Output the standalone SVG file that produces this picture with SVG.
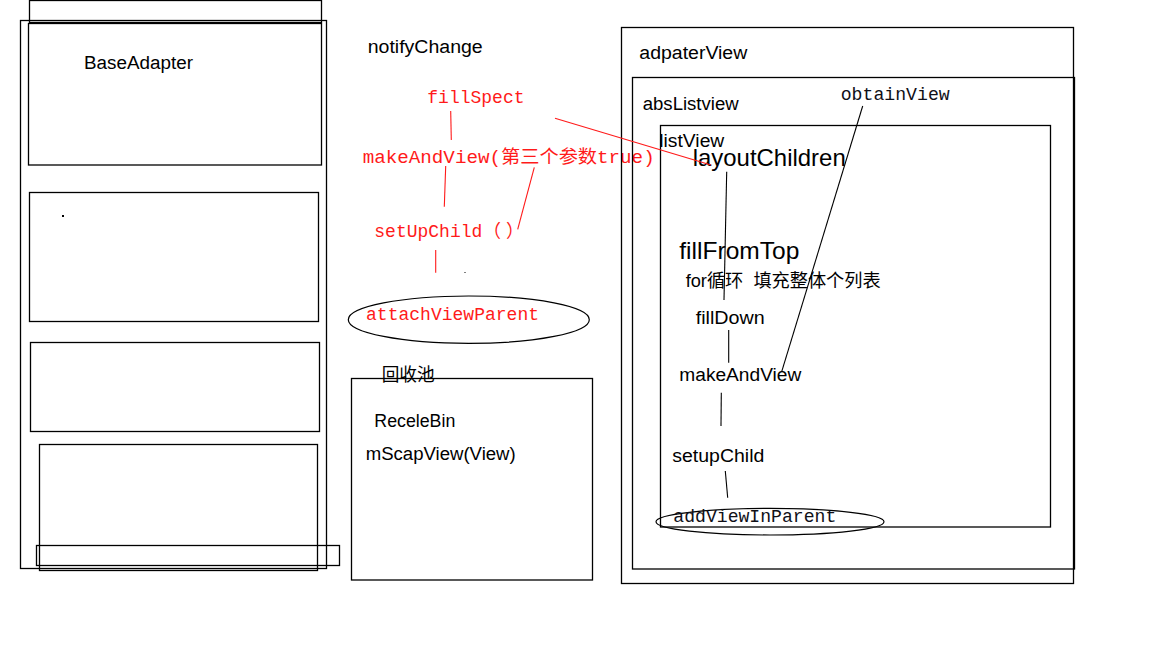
<svg xmlns="http://www.w3.org/2000/svg" width="1152" height="648" viewBox="0 0 1152 648">
<style>
rect.b{fill:none;stroke:#000;stroke-width:1.3}
ellipse.b{fill:none;stroke:#000;stroke-width:1.2}
.s{font-family:"Liberation Sans","Noto Sans CJK SC",sans-serif;font-size:18px;fill:#000}
.L{font-size:24px}
.m{font-family:"Liberation Mono","Noto Sans CJK SC",monospace;font-size:18px}
.red{fill:#ff1a1a}
.dk{fill:#101018}
.k{stroke:#000;stroke-width:1.1;fill:none}
.r{stroke:#ff1a1a;stroke-width:1.1;fill:none}
</style>
<rect width="1152" height="648" fill="#fff"/>
<g id="adapter-column">
  <rect class="b" x="29.5" y="0.5" width="292" height="22"/>
  <rect class="b" x="20.5" y="20.5" width="306" height="548"/>
  <g id="base-adapter">
    <rect class="b" x="28.5" y="23.5" width="293" height="141.5"/>
    <text class="s" x="84" y="68.5" textLength="109" lengthAdjust="spacingAndGlyphs">BaseAdapter</text>
  </g>
  <g id="item-2">
    <rect class="b" x="29.5" y="192.5" width="289" height="129"/>
    <rect x="62" y="215" width="2" height="2" fill="#000"/>
  </g>
  <rect id="item-3" class="b" x="30.5" y="342.5" width="289" height="89"/>
  <rect id="item-4" class="b" x="39.5" y="444.5" width="278" height="126"/>
  <rect id="item-5" class="b" x="36.5" y="545.5" width="303" height="20"/>
</g>
<g id="notify-flow">
  <text id="notifyChange" class="s" x="367.7" y="53.3" textLength="115" lengthAdjust="spacingAndGlyphs">notifyChange</text>
  <text id="fillSpect" class="m red" x="427.3" y="102.7">fillSpect</text>
  <text id="makeAndView-red" class="m red" x="362.7" y="162.7" textLength="292" lengthAdjust="spacingAndGlyphs">makeAndView(第三个参数true)</text>
  <text id="setUpChild-red" class="m red" x="374.3" y="236.7">setUpChild<tspan x="483">（</tspan><tspan x="506">）</tspan></text>
  <rect x="464.5" y="272" width="1" height="1" fill="#000"/>
  <g id="attachViewParent">
    <ellipse class="b" cx="468.8" cy="319.7" rx="120.5" ry="23.7"/>
    <text class="m red" x="366" y="320" textLength="173" lengthAdjust="spacingAndGlyphs">attachViewParent</text>
  </g>
</g>
<g id="recycle-bin">
  <rect class="b" x="351.5" y="378.5" width="241" height="201.5"/>
  <text class="s" x="381.7" y="380.7" textLength="53" lengthAdjust="spacingAndGlyphs">回收池</text>
  <text class="s" x="374.3" y="426.7" textLength="81" lengthAdjust="spacingAndGlyphs">ReceleBin</text>
  <text class="s" x="365.7" y="460" textLength="150" lengthAdjust="spacingAndGlyphs">mScapView(View)</text>
</g>
<g id="adapterView">
  <rect class="b" x="621.5" y="27.5" width="452" height="556"/>
  <text class="s" x="639.3" y="59.3" textLength="108" lengthAdjust="spacingAndGlyphs">adpaterView</text>
</g>
<g id="absListview">
  <rect class="b" x="632.5" y="77.5" width="442" height="491.5"/>
  <text class="s" x="642.7" y="110" textLength="96" lengthAdjust="spacingAndGlyphs">absListview</text>
  <text id="obtainView" class="m dk" x="840.7" y="100" textLength="109" lengthAdjust="spacingAndGlyphs">obtainView</text>
</g>
<g id="listView">
  <rect class="b" x="660.5" y="125.5" width="390" height="401.5"/>
  <text class="s" x="659.3" y="146.7" textLength="65" lengthAdjust="spacingAndGlyphs">listView</text>
  <text id="layoutChildren" class="s L" x="692.7" y="166" textLength="153" lengthAdjust="spacingAndGlyphs">layoutChildren</text>
  <text id="fillFromTop" class="s L" x="679.3" y="259.3" textLength="120" lengthAdjust="spacingAndGlyphs">fillFromTop</text>
  <text id="for-loop" class="s" x="685.7" y="286.7" textLength="195" lengthAdjust="spacingAndGlyphs" xml:space="preserve">for循环  填充整体个列表</text>
  <text id="fillDown" class="s" x="695.7" y="324.3" textLength="69" lengthAdjust="spacingAndGlyphs">fillDown</text>
  <text id="makeAndView" class="s" x="679.3" y="381" textLength="122" lengthAdjust="spacingAndGlyphs">makeAndView</text>
  <text id="setupChild" class="s" x="672.3" y="462.3" textLength="92" lengthAdjust="spacingAndGlyphs">setupChild</text>
  <g id="addViewInParent">
    <ellipse class="b" cx="770" cy="521.7" rx="114" ry="13.3"/>
    <text class="m dk" x="673.3" y="521.7" textLength="163" lengthAdjust="spacingAndGlyphs">addViewInParent</text>
  </g>
</g>
<g id="connectors">
  <line class="r" x1="450.7" y1="111" x2="451.3" y2="140"/>
  <line class="r" x1="445.7" y1="166" x2="444.3" y2="206.7"/>
  <line class="r" x1="534.3" y1="167.3" x2="517.7" y2="229.3"/>
  <line class="r" x1="435.7" y1="250" x2="435.7" y2="272.7"/>
  <line class="r" x1="555" y1="118.3" x2="711" y2="165"/>
  <line class="k" x1="862.7" y1="106" x2="781.7" y2="371.7"/>
  <line class="k" x1="726.7" y1="171.7" x2="724" y2="300"/>
  <line class="k" x1="728.7" y1="330" x2="728.7" y2="362.7"/>
  <line class="k" x1="721.3" y1="392.7" x2="721" y2="426"/>
  <line class="k" x1="725.3" y1="471" x2="727.7" y2="497.7"/>
</g>
</svg>
